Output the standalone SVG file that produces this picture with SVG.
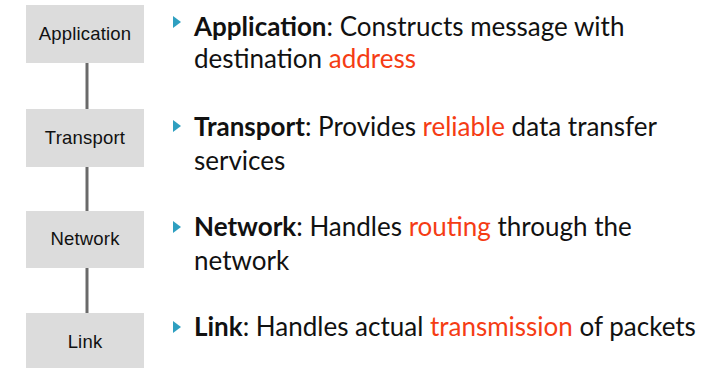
<svg xmlns="http://www.w3.org/2000/svg" width="706" height="368" viewBox="0 0 706 368">
<style>
.box{fill:#dcdcdc}
.lbl{font-family:"Liberation Sans",Arial,sans-serif;font-size:18.5px;fill:#111;text-anchor:middle;letter-spacing:0.2px}
.conn{stroke:#6a6a6a;stroke-width:3}
.bul{fill:#2e9fc0}
.t{font-family:Lato,"Open Sans",sans-serif;font-size:26px;fill:#111}
.b{font-weight:bold}
.r{fill:#f53c14}
</style>
<rect width="706" height="368" fill="#fff"/>
<g id="connectors">
<line class="conn" x1="87" y1="63" x2="87" y2="109"/>
<line class="conn" x1="87" y1="167" x2="87" y2="211"/>
<line class="conn" x1="87" y1="268" x2="87" y2="313"/>
</g>
<g id="application"><rect class="box" x="26" y="5" width="118" height="58"/><text class="lbl" x="85" y="40">Application</text></g>
<g id="transport"><rect class="box" x="26" y="109" width="118" height="58"/><text class="lbl" x="85" y="144">Transport</text></g>
<g id="network"><rect class="box" x="26" y="211" width="118" height="57"/><text class="lbl" x="85" y="245">Network</text></g>
<g id="link"><rect class="box" x="26" y="313" width="118" height="58"/><text class="lbl" x="85" y="348">Link</text></g>
<g id="text-application">
<polygon class="bul" points="173,16 181,22 173,28"/>
<text class="t" x="194" y="36"><tspan class="b">Application</tspan>: Constructs message with</text>
<text class="t" x="194" y="68">destination <tspan class="r">address</tspan></text>
</g>
<g id="text-transport">
<polygon class="bul" points="173,120 181,126 173,132"/>
<text class="t" x="194" y="136"><tspan class="b">Transport</tspan>: Provides <tspan class="r">reliable</tspan> data transfer</text>
<text class="t" x="194" y="170">services</text>
</g>
<g id="text-network">
<polygon class="bul" points="173,221 181,227 173,233"/>
<text class="t" x="194" y="236"><tspan class="b">Network</tspan>: Handles <tspan class="r">routing</tspan> through the</text>
<text class="t" x="194" y="270">network</text>
</g>
<g id="text-link">
<polygon class="bul" points="173,321 181,327 173,333"/>
<text class="t" x="194" y="336"><tspan class="b">Link</tspan>: Handles actual <tspan class="r">transmission</tspan> of packets</text>
</g>
</svg>
